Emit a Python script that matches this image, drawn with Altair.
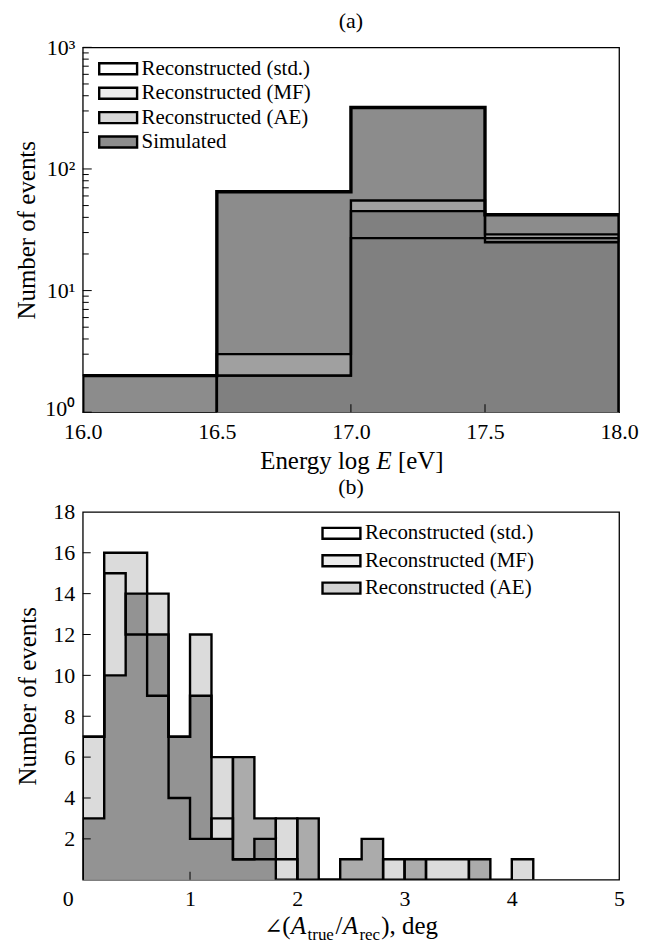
import altair as alt
import pandas as pd

SERIF = "Liberation Serif"

STD = "Reconstructed (std.)"
MF = "Reconstructed (MF)"
AE = "Reconstructed (AE)"
SIM = "Simulated"

# ---------------- panel (a): energy distribution ----------------
energy_edges = [16.0, 16.5, 17.0, 17.5, 18.0]
energy_ticks = [16.0, 16.5, 17.0, 17.5, 18.0]
sim_counts_a = [2, 65, 320, 42]
std_counts_a = [0, 2, 27, 25]
mf_counts_a = [0, 3, 55, 29]
ae_counts_a = [0, 2, 45, 27]
log_major = [1, 10, 100, 1000]
log_minor = [2, 3, 4, 5, 6, 7, 8, 9, 20, 30, 40, 50, 60, 70, 80, 90,
             200, 300, 400, 500, 600, 700, 800, 900]

# ---------------- panel (b): angular error distribution ----------------
angle_edges = [0.0, 0.2, 0.4, 0.6, 0.8, 1.0, 1.2, 1.4, 1.6, 1.8, 2.0, 2.2,
               2.4, 2.6, 2.8, 3.0, 3.2, 3.4, 3.6, 3.8, 4.0, 4.2]
std_counts_b = [7, 15, 12, 9, 4, 2, 3, 1, 1, 1, 0, 0, 0, 0, 0, 0, 0, 0, 0, 0, 0]
mf_counts_b = [7, 16, 16, 14, 7, 12, 6, 1, 2, 3, 0, 0, 0, 0, 1, 0, 1, 1, 0, 0, 1]
ae_counts_b = [3, 10, 14, 12, 7, 9, 2, 6, 3, 0, 3, 0, 1, 2, 0, 1, 0, 0, 1, 0, 0]
angle_ticks = [0, 1, 2, 3, 4, 5]
count_ticks = [2, 4, 6, 8, 10, 12, 14, 16, 18]


def fill_rows(edges, counts, series):
    idx = [i for i, c in enumerate(counts) if c > 0]
    a, b = idx[0], idx[-1]
    rows = [{"x": edges[i], "n": counts[i], "series": series} for i in range(a, b + 1)]
    rows.append({"x": edges[b + 1], "n": counts[b], "series": series})
    return pd.DataFrame(rows)


def outline_rows(edges, counts, series, base):
    idx = [i for i, c in enumerate(counts) if c > 0]
    a, b = idx[0], idx[-1]
    pts = [(edges[a], base)]
    for i in range(a, b + 1):
        pts.append((edges[i], counts[i] if counts[i] > 0 else base))
    pts.append((edges[b + 1], counts[b]))
    pts.append((edges[b + 1], base))
    return pd.DataFrame([{"x": x, "n": n, "k": k, "series": series}
                         for k, (x, n) in enumerate(pts)])


W = 538
HA = 366
HB = 369
SYM = "M-1.9,-0.55H1.9V0.55H-1.9Z"


def legend(lx, ly, rowpad):
    return alt.Legend(title=None, orient="none", legendX=lx, legendY=ly,
                      symbolType=SYM, symbolSize=400, symbolStrokeColor="black",
                      symbolStrokeWidth=2.4, symbolOpacity=1, padding=0,
                      labelFont=SERIF, labelFontSize=21, labelColor="black",
                      labelOffset=12, rowPadding=rowpad, labelLimit=400)


def text_piece(text, x, y, size=25, style="normal", font=SERIF):
    return alt.Chart(alt.Data(values=[{"t": 1}])).mark_text(
        text=text, font=font, fontSize=size, fontStyle=style,
        align="left", baseline="alphabetic", color="black"
    ).encode(x=alt.value(x), y=alt.value(y))


AXIS_STYLE = dict(labelFont=SERIF, labelFontSize=22, labelColor="black",
                  titleFont=SERIF, titleFontSize=25, titleFontWeight="normal",
                  titleColor="black", ticks=False, domain=False, grid=False)

# ---------------- build panel (a) ----------------
xa_scale = alt.Scale(domain=[16, 18], nice=False, zero=False)
ya_scale = alt.Scale(type="log", domain=[1, 1000], nice=False)
xa_axis = alt.Axis(values=energy_ticks, format=".1f", title=None,
                   labelFlush=False, labelPadding=9, **AXIS_STYLE)
ya_axis = alt.Axis(values=log_major, title="Number of events", titlePadding=5,
                   labelPadding=8,
                   labelOffset={"condition": {"test": "datum.value == 1", "value": -4}, "value": 0},
                   labelExpr="datum.value == 1 ? '10⁰' : datum.value == 10 ? '10¹' : datum.value == 100 ? '10²' : '10³'",
                   **AXIS_STYLE)


def xa(field="x"):
    return alt.X(f"{field}:Q", scale=xa_scale, axis=xa_axis)


def ya(field="n"):
    return alt.Y(f"{field}:Q", scale=ya_scale, axis=ya_axis, stack=None)


std_a = alt.Chart(fill_rows(energy_edges, std_counts_a, STD)).mark_area(
    interpolate="step-after").encode(
    x=xa(), y=ya(), y2=alt.datum(1),
    fill=alt.Fill("series:N", scale=alt.Scale(domain=[STD, MF, AE, SIM],
                  range=["#ffffff", "#ececec", "#d8d8d8", "#8c8c8c"]),
                  legend=legend(24, 10, 2.5)))
sim_a = alt.Chart(fill_rows(energy_edges, sim_counts_a, SIM)).mark_area(
    interpolate="step-after", color="#8c8c8c").encode(x=xa(), y=ya(), y2=alt.datum(1))
mf_a = alt.Chart(fill_rows(energy_edges, mf_counts_a, MF)).mark_area(
    interpolate="step-after", color="#ffffff", opacity=0.18).encode(x=xa(), y=ya(), y2=alt.datum(1))
ae_a = alt.Chart(fill_rows(energy_edges, ae_counts_a, AE)).mark_area(
    interpolate="step-after", color="#000000", opacity=0.2).encode(x=xa(), y=ya(), y2=alt.datum(1))

outl_a = pd.concat([outline_rows(energy_edges, std_counts_a, STD, 1),
                    outline_rows(energy_edges, mf_counts_a, MF, 1),
                    outline_rows(energy_edges, ae_counts_a, AE, 1)])
lines_a = alt.Chart(outl_a).mark_line(
    interpolate="step-after", color="black", strokeWidth=2.4, clip=True,
    strokeJoin="miter").encode(x=xa(), y=ya(), order="k:Q", detail="series:N")
simline_a = alt.Chart(outline_rows(energy_edges, sim_counts_a, SIM, 1)).mark_line(
    interpolate="step-after", color="black", strokeWidth=3.4, clip=True,
    strokeJoin="miter").encode(x=xa(), y=ya(), order="k:Q")

ytick_major_a = alt.Chart(pd.DataFrame({"v": log_major})).mark_rule(
    color="black", strokeWidth=1).encode(y=ya("v"), x=alt.value(0), x2=alt.value(9))
ytick_minor_a = alt.Chart(pd.DataFrame({"v": log_minor})).mark_rule(
    color="black", strokeWidth=1).encode(y=ya("v"), x=alt.value(0), x2=alt.value(6))
xtick_a = alt.Chart(pd.DataFrame({"v": energy_ticks[1:-1]})).mark_rule(
    color="black", strokeWidth=1).encode(x=xa("v"), y=alt.value(HA), y2=alt.value(HA - 8))

ta_y = HA + 57
ta_x0 = 178
title_a = [
    text_piece("Energy log", ta_x0, ta_y),
    text_piece("E", ta_x0 + 116.6, ta_y, style="italic"),
    text_piece("[eV]", ta_x0 + 138.2, ta_y),
]

panel_a = alt.layer(std_a, sim_a, mf_a, ae_a, lines_a, simline_a,
                    ytick_major_a, ytick_minor_a, xtick_a, *title_a).properties(
    width=W, height=HA,
    title=alt.TitleParams("(a)", font=SERIF, fontSize=22, fontWeight="normal",
                          color="black", offset=3))

# ---------------- build panel (b) ----------------
xb_scale = alt.Scale(domain=[0, 5], nice=False, zero=False)
yb_scale = alt.Scale(domain=[0, 18], nice=False)
xb_axis = alt.Axis(values=angle_ticks, format="d", title=None, labelFlush=False,
                   labelPadding=9,
                   labelOffset={"condition": {"test": "datum.value == 0", "value": -15}, "value": 0},
                   **AXIS_STYLE)
yb_axis = alt.Axis(values=count_ticks, format="d", title="Number of events",
                   titlePadding=12, labelPadding=8, **AXIS_STYLE)


def xb(field="x"):
    return alt.X(f"{field}:Q", scale=xb_scale, axis=xb_axis)


def yb(field="n"):
    return alt.Y(f"{field}:Q", scale=yb_scale, axis=yb_axis, stack=None)


std_b = alt.Chart(fill_rows(angle_edges, std_counts_b, STD)).mark_area(
    interpolate="step-after").encode(
    x=xb(), y=yb(), y2=alt.datum(0),
    fill=alt.Fill("series:N", scale=alt.Scale(domain=[STD, MF, AE],
                  range=["#ffffff", "#ececec", "#d3d3d3"]),
                  legend=legend(248, 10, 5.5)))
mf_b = alt.Chart(fill_rows(angle_edges, mf_counts_b, MF)).mark_area(
    interpolate="step-after", color="#000000", opacity=0.14).encode(x=xb(), y=yb(), y2=alt.datum(0))
ae_b = alt.Chart(fill_rows(angle_edges, ae_counts_b, AE)).mark_area(
    interpolate="step-after", color="#000000", opacity=0.33).encode(x=xb(), y=yb(), y2=alt.datum(0))

outl_b = pd.concat([outline_rows(angle_edges, std_counts_b, STD, 0),
                    outline_rows(angle_edges, mf_counts_b, MF, 0),
                    outline_rows(angle_edges, ae_counts_b, AE, 0)])
lines_b = alt.Chart(outl_b).mark_line(
    interpolate="step-after", color="black", strokeWidth=2.4, clip=True,
    strokeJoin="miter").encode(x=xb(), y=yb(), order="k:Q", detail="series:N")

ytick_b = alt.Chart(pd.DataFrame({"v": count_ticks[:-1]})).mark_rule(
    color="black", strokeWidth=1).encode(y=yb("v"), x=alt.value(0), x2=alt.value(8))
xtick_b = alt.Chart(pd.DataFrame({"v": angle_ticks[1:-1]})).mark_rule(
    color="black", strokeWidth=1).encode(x=xb("v"), y=alt.value(HB), y2=alt.value(HB - 8))

tb_y = HB + 54
tb_x0 = 182
title_b = [
    text_piece("∠", tb_x0, tb_y, size=22, font="DejaVu Serif"),
    text_piece("(", tb_x0 + 18, tb_y),
    text_piece("A", tb_x0 + 27, tb_y, style="italic"),
    text_piece("true", tb_x0 + 43.5, tb_y + 6, size=17),
    text_piece("/", tb_x0 + 71.5, tb_y),
    text_piece("A", tb_x0 + 79, tb_y, style="italic"),
    text_piece("rec", tb_x0 + 95.5, tb_y + 6, size=17),
    text_piece("), deg", tb_x0 + 117.5, tb_y),
]

panel_b = alt.layer(std_b, mf_b, ae_b, lines_b, ytick_b, xtick_b, *title_b).properties(
    width=W, height=HB,
    title=alt.TitleParams("(b)", font=SERIF, fontSize=22, fontWeight="normal",
                          color="black", offset=2))

chart = alt.vconcat(panel_a, panel_b, spacing=0).resolve_scale(
    fill="independent", x="independent", y="independent"
).properties(
    padding={"left": 6, "top": 0, "right": 5, "bottom": 0},
    background="white"
).configure_view(stroke="black", strokeWidth=1.3)

chart.save("out.html", embed_options={"renderer": "svg", "actions": False})
